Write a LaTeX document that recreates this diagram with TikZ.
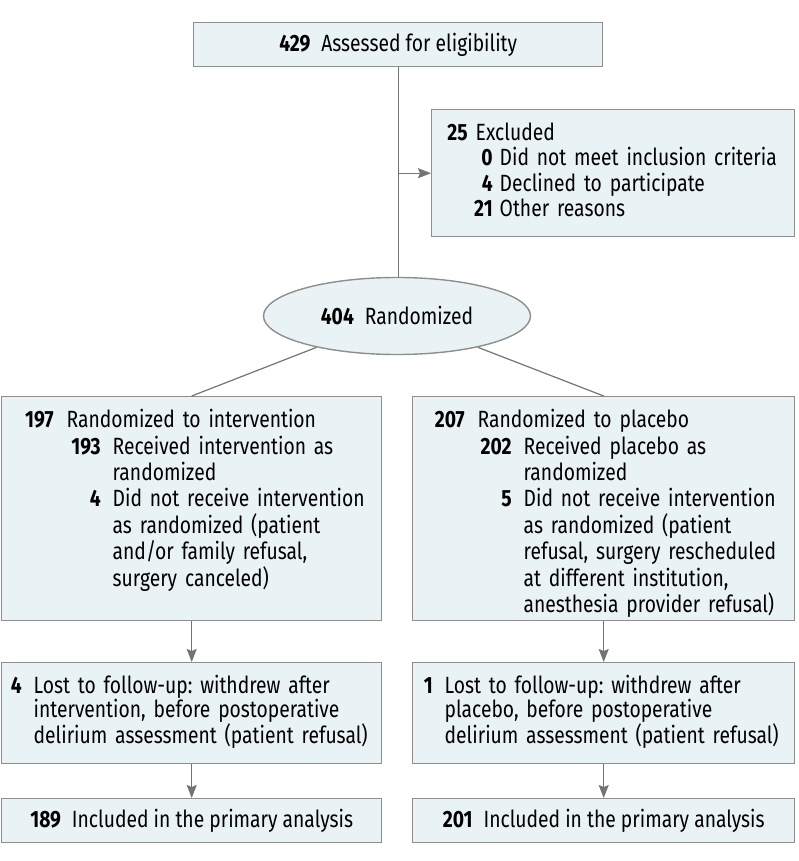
\documentclass[tikz,border=0pt]{standalone}
\usepackage{fontspec}
\setmainfont{Fira Sans}[FakeStretch=0.82]
\usetikzlibrary{calc,arrows.meta,shapes.geometric}

\definecolor{boxfill}{HTML}{E9F2F4}
\definecolor{boxline}{HTML}{8E8E8E}
\definecolor{flowline}{HTML}{747474}

\tikzset{
  box/.style = {draw = boxline, fill = boxfill, line width = 1.4pt, rectangle, inner sep = 0pt, anchor = north west},
  flow/.style = {draw = flowline, line width = 1.2pt},
  flowarrow/.style = {flow, -{Stealth[length = 13pt, width = 10pt, inset = 2pt]}},
}

% number + gap, numbers right aligned
\newcommand{\num}[3]{\makebox[#1][r]{\bfseries #2}\hspace*{#3}}
\frenchspacing

\begin{document}
\begin{tikzpicture}[x = 1pt, y = -1pt, font = \fontsize{23.5}{26.4}\selectfont]
        \path[use as bounding box](0,0)rectangle(798,861);
        % corners
        \coordinate(E1)at(193,22);
        \coordinate(X1)at(431,109);
        \coordinate(R0)at(397,316);
        \coordinate(L1)at(1,396);
        \coordinate(P1)at(412,396);
        \coordinate(L2)at(1,662);
        \coordinate(P2)at(412,662);
        \coordinate(L3)at(1,798);
        \coordinate(P3)at(412,798);
        % 上
        \node[box, minimum width = 409pt, minimum height = 44pt, align = center](elig)at(E1)
            {\textbf{429}\hspace{11pt}Assessed for eligibility};
        \node[box, minimum width = 363pt, text height = 31pt, text depth = 96pt, text width = 363pt, align = left,
              font = \fontsize{23.5}{25.3}\selectfont](excl)at(X1)
            {\num{36pt}{25}{8pt}Excluded\\
             \hspace*{36pt}\num{25pt}{0}{7pt}Did not meet inclusion criteria\\
             \hspace*{36pt}\num{25pt}{4}{7pt}Declined to participate\\
             \hspace*{36pt}\num{25pt}{21}{7pt}Other reasons};
        \node[ellipse, draw = boxline, fill = boxfill, line width = 1.4pt, inner sep = 0pt,
              minimum width = 267pt, minimum height = 77pt](rand)at(R0)
            {\textbf{404}\hspace{11pt}Randomized};
        % 中
        \node[box, minimum width = 380pt, text height = 31pt, text depth = 193pt, text width = 380pt, align = left](intv)at(L1)
            {\num{52pt}{197}{13pt}Randomized to intervention\\
             \hspace*{52pt}\num{47pt}{193}{12pt}Received intervention as\\
             \hspace*{111pt}randomized\\
             \hspace*{52pt}\num{47pt}{4}{12pt}Did not receive intervention\\
             \hspace*{111pt}as randomized (patient\\
             \hspace*{111pt}and/or family refusal,\\
             \hspace*{111pt}surgery canceled)};
        \node[box, minimum width = 382pt, text height = 31pt, text depth = 193pt, text width = 382pt, align = left](plac)at(P1)
            {\num{52pt}{207}{13pt}Randomized to placebo\\
             \hspace*{52pt}\num{47pt}{202}{12pt}Received placebo as\\
             \hspace*{111pt}randomized\\
             \hspace*{52pt}\num{47pt}{5}{12pt}Did not receive intervention\\
             \hspace*{111pt}as randomized (patient\\
             \hspace*{111pt}refusal, surgery rescheduled\\
             \hspace*{111pt}at different institution,\\
             \hspace*{111pt}anesthesia provider refusal)};
        % 下
        \node[box, minimum width = 380pt, text height = 31pt, text depth = 70pt, text width = 380pt, align = left,
              font = \fontsize{23.5}{23.5}\selectfont](lostI)at(L2)
            {\num{20pt}{4}{12pt}Lost to follow-up: withdrew after\\
             \hspace*{32pt}intervention, before postoperative\\
             \hspace*{32pt}delirium assessment (patient refusal)};
        \node[box, minimum width = 382pt, text height = 31pt, text depth = 70pt, text width = 382pt, align = left,
              font = \fontsize{23.5}{23.5}\selectfont](lostP)at(P2)
            {\num{20pt}{1}{12pt}Lost to follow-up: withdrew after\\
             \hspace*{32pt}placebo, before postoperative\\
             \hspace*{32pt}delirium assessment (patient refusal)};
        \node[box, minimum width = 380pt, minimum height = 44pt, align = center](inclI)at(L3)
            {\textbf{189}\hspace{11pt}Included in the primary analysis};
        \node[box, minimum width = 382pt, minimum height = 44pt, align = center](inclP)at(P3)
            {\textbf{201}\hspace{11pt}Included in the primary analysis};
        % lines
        \path[flow](elig.south)to(elig.south |- rand.north);
        \path[flowarrow](elig.south |- excl.west)to(excl.west);
        \path[flow](rand)to(intv.north);
        \path[flow](rand)to(plac.north);
        \path[flowarrow](intv.south)to(lostI.north);
        \path[flowarrow](plac.south)to(lostP.north);
        \path[flowarrow](lostI.south)to(inclI.north);
        \path[flowarrow](lostP.south)to(inclP.north);
    \end{tikzpicture}
\end{document}
